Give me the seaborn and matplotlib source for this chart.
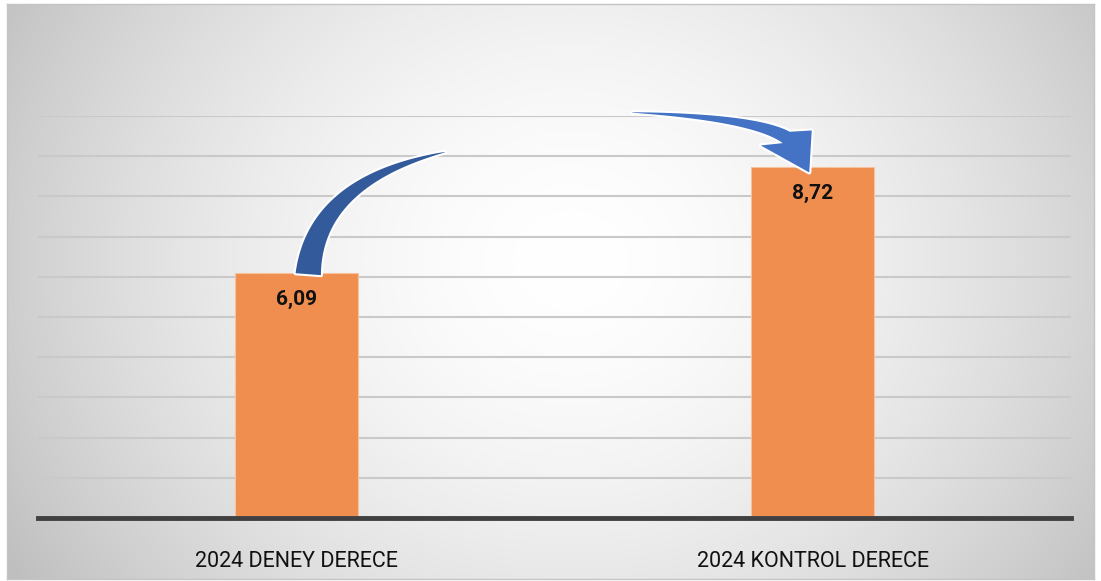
import numpy as np
import pandas as pd
import seaborn as sns
import matplotlib.pyplot as plt
from matplotlib.patches import Polygon
import matplotlib.font_manager as fm

# Data
categories = ["2024 DENEY DERECE", "2024 KONTROL DERECE"]
values = [6.09, 8.72]
value_labels = ["6,09", "8,72"]

W, H = 1101, 581

sns.set_style("white")
names = {f.name for f in fm.fontManager.ttflist}
family = ["Liberation Sans Narrow", "DejaVu Sans"] if "Liberation Sans Narrow" in names else ["Roboto", "DejaVu Sans"]
plt.rcParams["font.family"] = family

fig = plt.figure(figsize=(W / 100, H / 100), dpi=100)
fig.patch.set_facecolor("white")


def fx(px):
    return px / W


def fy(py):
    return 1 - py / H


# -------------------
# Radial gradient background
# -------------------
bx0, by0, bx1, by1 = 7, 4, 1094, 579
bg = fig.add_axes([fx(bx0), fy(by1), fx(bx1 - bx0), (by1 - by0) / H])
xx, yy = np.meshgrid(np.arange(bx0, bx1), np.arange(by0, by1))
t = np.sqrt(((xx - 570) / 660) ** 2 + ((yy - 260) / 580) ** 2)
shade = 255 - 64 * np.clip(t, 0, 1) ** 1.7
img = np.dstack([shade, shade, shade]) / 255
bg.imshow(img, aspect="auto", extent=[0, 1, 0, 1])
bg.set_xticks([])
bg.set_yticks([])
for s in bg.spines.values():
    s.set_color("#c4c4c4")
    s.set_linewidth(1)

# -------------------
# Bar chart
# -------------------
ax_left, ax_right, ax_bottom, ax_top = 38, 1071, 518, 116
ax = fig.add_axes([fx(ax_left), fy(ax_bottom), fx(ax_right - ax_left), (ax_bottom - ax_top) / H])
ax.patch.set_alpha(0)

df = pd.DataFrame({"category": categories, "value": values})
sns.barplot(data=df, x="category", y="value", color="#ef8e4f", width=0.238,
            saturation=1, edgecolor="#f6c39f", linewidth=0.8, ax=ax, zorder=3)
ax.set_xlim(-0.5, 1.5)
ax.set_ylim(0, 10)
ax.set_yticks(np.arange(1, 11))
ax.yaxis.grid(True, color="#c9c9c9", linewidth=1.5)
ax.set_axisbelow(True)
ax.tick_params(axis="y", left=False, labelleft=False)
ax.tick_params(axis="x", bottom=False, pad=20, labelsize=15.5, labelcolor="#111111")
ax.set_xlabel("")
ax.set_ylabel("")
for side in ["top", "left", "right"]:
    ax.spines[side].set_visible(False)
ax.spines["bottom"].set_color("#404040")
ax.spines["bottom"].set_linewidth(3.5)
ax.spines["bottom"].set_zorder(4)

for i, (v, lab) in enumerate(zip(values, value_labels)):
    ax.annotate(lab, (i, v), xytext=(0, -26), textcoords="offset pixels",
                ha="center", va="center", fontsize=15, fontweight="bold",
                color="#111111", zorder=5)

# -------------------
# Curved arrow (decoration, anchored on the bar tops)
# -------------------
fig.canvas.draw()


def top_px(i):
    dx, dy = ax.transData.transform((i, values[i]))
    return np.array([dx, H - dy])


def bezier(p0, p1, p2, n=80):
    s = np.linspace(0, 1, n)[:, None]
    pts = (1 - s) ** 2 * p0 + 2 * (1 - s) * s * p1 + s ** 2 * p2
    tan = 2 * (1 - s) * (p1 - p0) + 2 * s * (p2 - p1)
    tan = tan / np.linalg.norm(tan, axis=1, keepdims=True)
    nrm = np.column_stack([-tan[:, 1], tan[:, 0]])
    return s[:, 0], pts, nrm


def to_fig(pts):
    pts = np.asarray(pts)
    return np.column_stack([pts[:, 0] / W, 1 - pts[:, 1] / H])


def add_shape(poly, color):
    # white halo drawn underneath, then the fill without edge
    fig.patches.append(Polygon(to_fig(poly), closed=True, transform=fig.transFigure,
                               facecolor="white", edgecolor="white", linewidth=3,
                               joinstyle="round", zorder=6))
    fig.patches.append(Polygon(to_fig(poly), closed=True, transform=fig.transFigure,
                               facecolor=color, edgecolor="none", zorder=7))


a = top_px(0)
b = top_px(1)

# left part: wide at the left bar, thin towards the top
s, c, n = bezier(a + [12, 1], a + [19, -92], a + [148.5, -121])
w = 12.5 * (1 - s) ** 0.9 + 0.2
left_poly = np.vstack([c + n * w[:, None], (c - n * w[:, None])[::-1]])
add_shape(left_poly, "#335a9b")

# right part: thin at the top, ending in an arrow head over the right bar
s, c, n = bezier(b + [-180.5, -55], b + [-58.5, -50], b + [-26.5, -30])
w = 6.5 * s ** 0.9 + 0.2
lower = c + n * w[:, None]
upper = c - n * w[:, None]
head = np.array([b + [-52, -22], b + [-3.5, 5], b + [-1, -37]])
right_poly = np.vstack([lower, head, upper[::-1]])
add_shape(right_poly, "#4472c4")

plt.savefig("out.png", dpi=100)
plt.close()
